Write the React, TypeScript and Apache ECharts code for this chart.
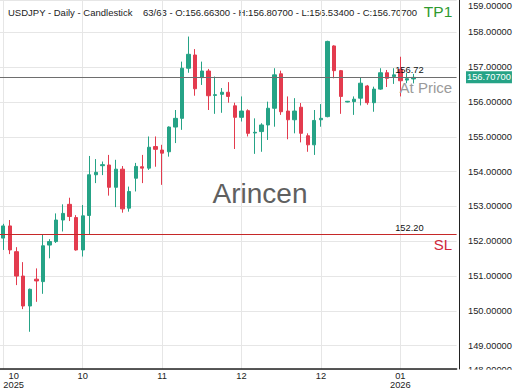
import React, { useEffect, useRef } from 'react';
import * as echarts from 'echarts';

// ---- data ----
const tickLabels = ['10\n2025', '10', '11', '12', '12', '01\n2026'];
const TICK_STEP = 12;
const SLOT_COUNT = 69;

const opens = [
  152.09, 152.44, 151.70, 151.00, 150.14, 150.91, 150.84, 151.89, 151.99, 152.61,
  153.06, 152.68, 151.75, 152.74, 153.91, 154.17, 154.19, 153.55, 154.07, 152.95,
  153.81, 154.14, 154.10, 154.72, 154.62, 154.57, 155.28, 155.53, 156.97, 157.35,
  156.70, 156.89, 156.19, 156.22, 156.28, 155.89, 155.56, 155.75, 155.11, 155.15,
  155.34, 155.82, 156.81, 155.74, 155.49, 155.85, 155.03, 154.77, 155.49, 155.58,
  157.61, 156.90, 156.00, 156.01, 156.11, 156.46, 155.98, 156.37, 156.84, 156.73,
  156.94, 156.63, 156.663,
];
const closes = [
  152.44, 151.75, 151.00, 150.14, 150.62, 150.86, 151.87, 151.99, 152.61, 152.80,
  152.71, 151.75, 152.73, 153.91, 153.98, 154.20, 153.55, 154.07, 152.93, 153.43,
  154.15, 154.10, 154.70, 154.64, 154.53, 155.28, 155.53, 156.97, 157.37, 156.38,
  156.89, 156.18, 156.21, 156.28, 156.16, 155.56, 155.74, 155.10, 155.13, 155.34,
  155.82, 156.78, 155.72, 155.49, 155.74, 155.10, 154.77, 155.47, 155.53, 157.74,
  156.90, 156.16, 156.02, 156.08, 156.54, 155.98, 156.37, 156.84, 156.68, 156.78,
  156.61, 156.67, 156.707,
];
const lows = [
  151.75, 151.63, 150.74, 150.05, 149.40, 150.26, 150.49, 151.51, 151.95, 152.28,
  152.58, 151.73, 151.56, 152.18, 153.67, 153.90, 153.31, 152.98, 152.82, 152.85,
  153.43, 153.67, 154.05, 154.14, 153.62, 154.43, 154.82, 155.20, 156.84, 156.18,
  156.49, 155.77, 155.66, 155.69, 155.98, 154.65, 155.44, 155.01, 154.51, 154.57,
  154.91, 155.29, 155.63, 154.93, 155.10, 154.84, 154.57, 154.48, 155.29, 155.56,
  156.68, 155.66, 155.99, 155.63, 155.90, 155.92, 155.72, 156.35, 156.43, 156.52,
  156.16, 156.54, 156.534,
];
const highs = [
  152.50, 152.61, 151.83, 151.40, 150.64, 151.22, 152.18, 152.06, 152.80, 153.06,
  153.25, 152.75, 153.04, 154.45, 154.36, 154.29, 154.48, 154.34, 154.16, 153.57,
  154.25, 154.48, 155.01, 155.01, 154.77, 155.30, 155.77, 157.16, 157.88, 157.52,
  157.16, 156.95, 156.73, 156.40, 156.57, 155.98, 156.16, 155.79, 155.53, 155.39,
  156.01, 156.97, 156.90, 156.16, 156.11, 155.97, 155.10, 155.77, 155.94, 157.76,
  157.63, 156.92, 156.03, 156.16, 156.70, 156.49, 156.44, 156.97, 156.92, 156.97,
  157.30, 156.83, 156.807,
];

const lastPrice = 156.707;
const entryPrice = 156.72;
const stopLoss = 152.2;
const yMin = 148.33;
const yMax = 158.93;
const topClampedLabel = 159;
const bottomClampedLabel = 148;

const titleMain = 'USDJPY - Daily - Candlestick';
const titleOhlc = '63/63 - O:156.66300 - H:156.80700 - L:156.53400 - C:156.70700';

const GREEN = '#25a386';
const RED = '#e33b4e';
const FONT = '"Liberation Sans", Arial, sans-serif';
const AX_FS = 9.3;
const HIDDEN_LINE = { color: 'rgba(0,0,0,0)', width: 1, type: 'solid' };

export default function App() {
  const ref = useRef<HTMLDivElement>(null);
  useEffect(() => {
    if (!ref.current) return;
    const chart = echarts.init(ref.current, null, { renderer: 'svg' });
    const categories = Array.from({ length: SLOT_COUNT }, (_, i) => String(i));
    const candles = opens.map((o, i) => [o, closes[i], lows[i], highs[i]]);
    const gridW = 456.6;
    chart.setOption({
      animation: false,
      textStyle: { fontFamily: FONT },
      grid: { left: 0, top: 0, right: 520 - gridW, bottom: 21, containLabel: false },
      xAxis: {
        type: 'category',
        data: categories,
        boundaryGap: true,
        axisLine: { show: true, lineStyle: { color: '#222', width: 1.5 } },
        axisTick: { show: false },
        splitLine: { show: true, interval: TICK_STEP - 1, alignWithLabel: true, lineStyle: { color: '#e6e6e6', width: 1 } },
        axisLabel: {
          interval: TICK_STEP - 1,
          margin: 2.5,
          fontSize: AX_FS,
          lineHeight: 8.8,
          color: '#222',
          alignMinLabel: 'left',
          formatter: (_v: string, idx: number) => {
            if (idx % TICK_STEP !== 0) return '';
            const k = idx / TICK_STEP;
            if (k >= tickLabels.length) return '';
            if (k === 0) return tickLabels[0].split('\n').map((s) => '{c|' + s + '}').join('\n');
            return tickLabels[k];
          },
          rich: { c: { align: 'center', fontSize: AX_FS, lineHeight: 8.8, color: '#222' } },
        },
      },
      yAxis: {
        type: 'value',
        position: 'right',
        min: yMin,
        max: yMax,
        minInterval: 1,
        maxInterval: 1,
        splitNumber: 10,
        offset: 3,
        axisLine: { show: true, onZero: false, lineStyle: { color: '#222', width: 1 } },
        axisTick: { show: false },
        axisLabel: {
          margin: 8.4,
          fontSize: AX_FS,
          color: '#222',
          formatter: (v: number) => (Math.abs(v - Math.round(v)) < 1e-6 ? v.toFixed(5) : ''),
        },
        splitLine: { show: true, lineStyle: { color: '#e6e6e6', width: 1 } },
      },
      series: [
        {
          type: 'candlestick',
          data: candles,
          barWidth: 3.8,
          itemStyle: { color: GREEN, color0: RED, borderColor: GREEN, borderColor0: RED, borderWidth: 1 },
          markLine: {
            silent: true,
            symbol: ['none', 'none'],
            animation: false,
            data: [
              {
                yAxis: lastPrice,
                lineStyle: { color: '#6e6e6e', width: 1, type: 'solid' },
                label: {
                  show: true, position: 'end', formatter: lastPrice.toFixed(5), color: '#fff',
                  backgroundColor: GREEN, fontSize: AX_FS, lineHeight: 10, padding: [1, 1], distance: 9.4,
                },
              },
              {
                yAxis: entryPrice,
                lineStyle: HIDDEN_LINE,
                label: {
                  show: true, position: 'insideEndTop', formatter: entryPrice.toFixed(2), color: '#111',
                  fontSize: AX_FS, distance: 2, padding: [0, 31, 0, 0],
                },
              },
              {
                yAxis: entryPrice,
                lineStyle: HIDDEN_LINE,
                label: {
                  show: true, position: 'insideEndBottom', formatter: 'At Price', color: '#9a9a9a',
                  fontSize: 15, distance: 3, padding: [0, 1.5, 0, 0],
                },
              },
              {
                yAxis: stopLoss,
                lineStyle: { color: '#c62828', width: 1, type: 'solid' },
                label: {
                  show: true, position: 'insideEndTop', formatter: stopLoss.toFixed(2), color: '#111',
                  fontSize: AX_FS, distance: 2, padding: [0, 31, 0, 0],
                },
              },
              {
                yAxis: stopLoss,
                lineStyle: HIDDEN_LINE,
                label: {
                  show: true, position: 'insideEndBottom', formatter: 'SL', color: '#d0283a',
                  fontSize: 15, distance: 3, padding: [0, 1.5, 0, 0],
                },
              },
            ],
          },
        },
      ],
      graphic: [
        { type: 'text', x: 8, y: 12, style: { text: titleMain, fill: '#222', font: '9.5px ' + FONT, verticalAlign: 'middle', align: 'left' } },
        { type: 'text', x: 143, y: 12, style: { text: titleOhlc, fill: '#222', font: '9.5px ' + FONT, verticalAlign: 'middle', align: 'left' } },
        { type: 'text', x: 452.3, y: 11, style: { text: 'TP1', fill: '#2f9a2f', font: '15.5px ' + FONT, verticalAlign: 'middle', align: 'right' } },
        { type: 'text', x: 260, y: 193.5, style: { text: 'Arincen', fill: '#606060', font: '28px ' + FONT, verticalAlign: 'middle', align: 'center' } },
        { type: 'text', x: 468, y: 5.5, style: { text: topClampedLabel.toFixed(5), fill: '#222', font: AX_FS + 'px ' + FONT, verticalAlign: 'middle', align: 'left' } },
        { type: 'text', x: 468, y: 369.5, style: { text: bottomClampedLabel.toFixed(5), fill: '#222', font: AX_FS + 'px ' + FONT, verticalAlign: 'middle', align: 'left' } },
        { type: 'rect', z: 100, shape: { x: 461, y: -2, width: 59, height: 4.5 }, style: { fill: '#fff' } },
        { type: 'rect', z: 100, shape: { x: 461, y: 369.8, width: 59, height: 21 }, style: { fill: '#fff' } },
      ],
    });
    return () => chart.dispose();
  }, []);
  return <div ref={ref} style={{ position: 'fixed', left: 0, top: 0, width: 520, height: 390, background: '#fff' }} />;
}
